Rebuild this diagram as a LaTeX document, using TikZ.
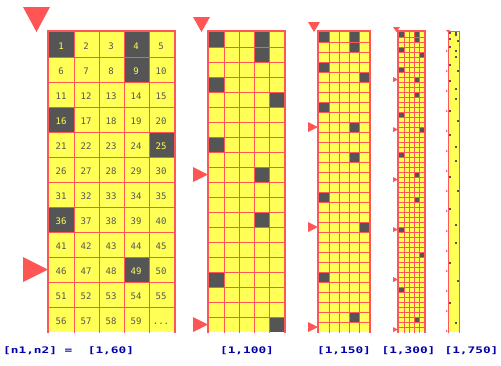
\documentclass[tikz,border=0pt]{standalone}
\usepackage{fontspec}
\usepackage{tikz}
\newfontfamily\numfont{DejaVu Sans Mono}
\newfontfamily\labelfont[FakeStretch=1.42]{DejaVu Sans Mono}
\definecolor{sieveyellow}{HTML}{FFFF55}
\definecolor{sievered}{HTML}{FF5555}
\definecolor{sievegray}{HTML}{555555}
\definecolor{sieveblue}{HTML}{0000AA}

% #1 border width, #2 left, #3 cell size, #4 rows, #5 largest root, #6 marked rows, #7 inner lines
\newcommand{\sievegrid}[7][2]{%
  \fill[sieveyellow] (#2,32) rectangle ++(5*#3,#4*#3);
  \foreach \k in {1,...,#5}{
    \pgfmathtruncatemacro\cellrow{(\k*\k-1)/5}
    \pgfmathtruncatemacro\cellcol{mod(\k*\k-1,5)}
    \fill[sievegray] (#2+\cellcol*#3,32+\cellrow*#3) rectangle ++(#3,#3);
  }
  \ifnum#7=1
    \foreach \c in {1,...,4}
      \draw[gridline] (#2+\c*#3,32) -- ++(0,#4*#3+1);
    \foreach \r in {2,...,#4}
      \draw[gridline] (#2,32+\r*#3-#3) -- ++(5*#3,0);
  \fi
  \draw[border, line width=#1pt] (#2-#1/2,33+#4*#3) -- (#2-#1/2,32-#1/2)
     -- (#2+5*#3+#1/2,32-#1/2) -- (#2+5*#3+#1/2,33+#4*#3);
  \fill[marker] (#2-#3-1,32-#3) -- (#2+1,32-#3) -- (#2-#3/2,32) -- cycle;
  \foreach \r in {#6}
    \fill[marker] (#2-#3-1,32+\r*#3) -- (#2-#3-1,32+\r*#3+#3) -- (#2-1,32+\r*#3+#3/2) -- cycle;
}

\begin{document}
\begin{tikzpicture}[
      x=1pt, y=-1pt,
      gridline/.style={draw=sievered, line width=1pt},
      border/.style={draw=sievered},
      marker/.style={fill=sievered},
      cellnum/.style={
         anchor=base,
         inner sep=0pt,
         font=\numfont\fontsize{9}{9}\selectfont
      },
      rangelabel/.style={
         anchor=base,
         inner sep=0pt,
         text=sieveblue,
         font=\labelfont\bfseries\fontsize{9}{9}\selectfont
      }
    ]
    \useasboundingbox (0,0) rectangle (501,365);

    \sievegrid{49}{25}{12}{7}{9}{1}
    \sievegrid{209}{15}{20}{10}{9,19}{1}
    \sievegrid{319}{10}{30}{12}{9,19,29}{1}
    \sievegrid{399}{5}{60}{17}{9,19,...,59}{1}
    \sievegrid[1]{449}{2}{150}{27}{9,19,...,149}{0}

    \foreach \n in {1,...,59}{
      \pgfmathtruncatemacro\cellrow{(\n-1)/5}
      \pgfmathtruncatemacro\cellcol{mod(\n-1,5)}
      \pgfmathtruncatemacro\cellroot{round(sqrt(\n))}
      \ifnum\numexpr\cellroot*\cellroot\relax=\n
        \def\numcol{sieveyellow}
      \else
        \def\numcol{sievegray}
      \fi
      \node[cellnum, text=\numcol] (n\n) at (61+\cellcol*25,49.5+\cellrow*25) {\n};
    }
    \node[cellnum, text=sievegray] (n60) at (161,324.5) {...};

    \node[rangelabel, anchor=base west] (lab60) at (3,353.5) {[n1,n2]~=~~[1,60]};
    \node[rangelabel] (lab100) at (247,353.5) {[1,100]};
    \node[rangelabel] (lab150) at (344,353.5) {[1,150]};
    \node[rangelabel] (lab300) at (408.5,353.5) {[1,300]};
    \node[rangelabel] (lab750) at (471.5,353.5) {[1,750]};
\end{tikzpicture}
\end{document}
